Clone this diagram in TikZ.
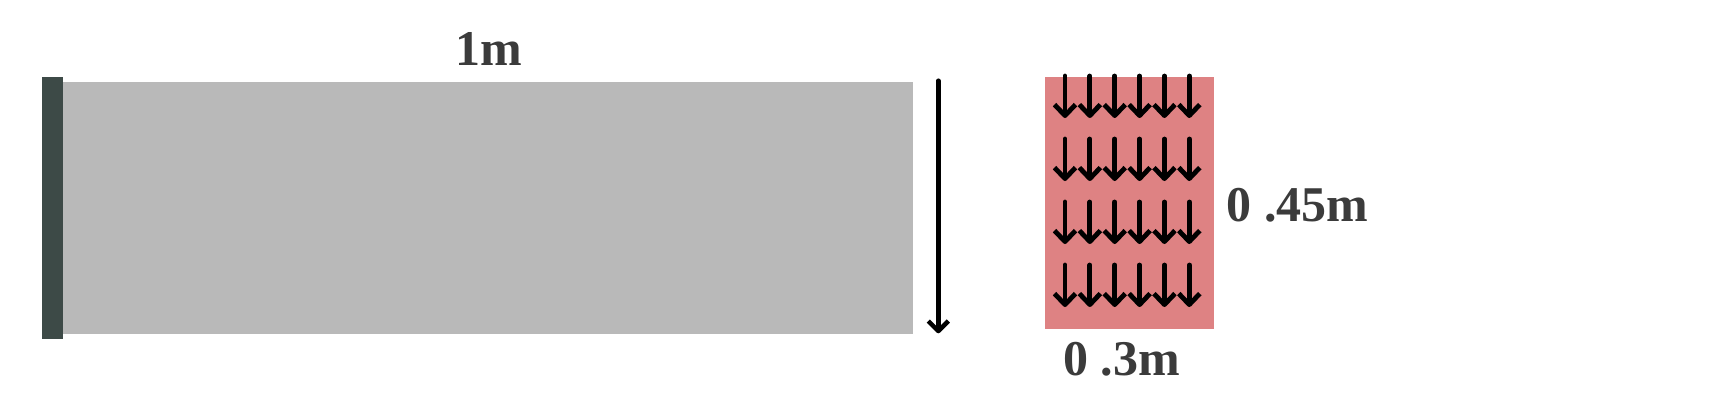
\documentclass[tikz,border=0pt]{standalone}
\usepackage{fontspec}
\setmainfont{Liberation Serif}
\usetikzlibrary{arrows.meta}
\definecolor{wallc}{HTML}{3D4A47}
\definecolor{beamc}{HTML}{B9B9B9}
\definecolor{loadc}{HTML}{DE8283}
\definecolor{txtc}{HTML}{3B3B3B}
\tikzset{
  lbl/.style={anchor=base west, inner sep=0pt, text=txtc, font=\fontsize{50}{50}\selectfont\bfseries},
  bigarrow/.style={line width=4.5pt, line cap=round, -{Straight Barb[length=10pt, width=20pt, line join=round]}},
  smallarrow/.style={line width=4.8pt, line cap=round, -{Straight Barb[length=11pt, width=21pt, line join=round]}}
}
\begin{document}
\begin{tikzpicture}[x=1pt, y=-1pt]
\useasboundingbox (0,0) rectangle (1722,400);
% beam
\fill[beamc] (62.7,82) rectangle (913.3,334.3);
\fill[wallc] (42.3,77.3) rectangle (62.7,339);
\node[lbl] (len) at (455,65) {1m};
% deflection arrow
\coordinate (dtop) at (938.3,80.7);
\coordinate (dbot) at (938.3,333.3);
\draw[bigarrow] (dtop) -- (dbot);
% load section
\fill[loadc] (1045.3,76.7) rectangle (1213.7,329.3);
\foreach \i in {0,...,5}{
  \foreach \j in {0,...,3}{
    \coordinate (a\i\j) at ({1065+24.86*\i},{76+63*\j});
    \coordinate (b\i\j) at ({1065+24.86*\i},{118+63*\j});
    \draw[smallarrow] (a\i\j) -- (b\i\j);
  }
}
\node[lbl] (hgt) at (1226.7,221.7) {0 .45m};
\node[lbl] (wid) at (1063,375) {0 .3m};
\end{tikzpicture}
\end{document}
